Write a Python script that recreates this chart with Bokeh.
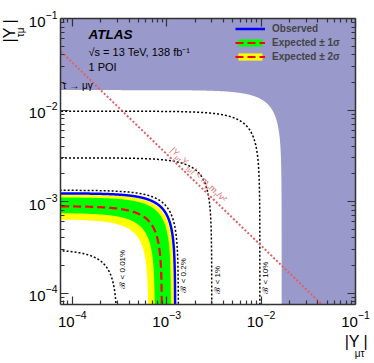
import numpy as np
from bokeh.plotting import figure
from bokeh.models import (Label, Legend, LegendItem, LogAxis, FixedTicker,
                          CustomJSTickFormatter, Range1d, Title)
from bokeh.embed import file_html
from bokeh.resources import INLINE

# ---------------- data ----------------
x_lim = (7.5e-5, 0.1)
y_lim = (7.5e-5, 0.1)
major_ticks = [1e-4, 1e-3, 1e-2, 1e-1]
minor_mantissas = [2, 3, 4, 5, 6, 7, 8, 9]
minor_decades = [-5, -4, -3, -2]

# limits are quarter circles |Y_mt|^2 + |Y_tm|^2 = r^2 ; radii
observed_r = 0.00123
expected_r = 0.00089
exp_1s_r = [0.00075, 0.00111]
exp_2s_r = [0.00064, 0.00119]
taumugamma_r = 0.0165            # indirect tau -> mu gamma exclusion
br_labels = ["ℬ < 0.01%", "ℬ < 0.2%", "ℬ < 1%", "ℬ < 10%"]
br_r = [0.0003, 0.00133, 0.003, 0.0097]
br_label_y = [1.82e-4, 1.56e-4, 1.40e-4, 1.47e-4]
natural_c = 3.3e-6               # |Y_mt Y_tm| = m_mu m_tau / v^2

FONT = "Liberation Sans"

theta = np.linspace(1e-5, np.pi / 2 - 1e-5, 4000)


def arc(r):
    return r * np.cos(theta), r * np.sin(theta)


p = figure(width=374, height=363,
           x_axis_type="log", y_axis_type="log",
           x_range=Range1d(*x_lim), y_range=Range1d(*y_lim),
           output_backend="svg", toolbar_location=None,
           min_border_left=60, min_border_right=19,
           min_border_top=18, min_border_bottom=59)
p.xgrid.visible = False
p.ygrid.visible = False
p.outline_line_color = None
p.background_fill_color = "white"

# excluded region by tau -> mu gamma
ex, ey = arc(taumugamma_r)
far = x_lim[1] * 10
near = ex[-1]
p.patch(list(ex) + [near, far, far], list(ey) + [far, far, ey[0]],
        fill_color="#9999CC", line_color=None)

# bands
x2o, y2o = arc(exp_2s_r[1])
x2i, y2i = arc(exp_2s_r[0])
yellow = p.patch(list(x2o) + list(x2i[::-1]), list(y2o) + list(y2i[::-1]),
                 fill_color="#FFFF00", line_color=None)
x1o, y1o = arc(exp_1s_r[1])
x1i, y1i = arc(exp_1s_r[0])
green = p.patch(list(x1o) + list(x1i[::-1]), list(y1o) + list(y1i[::-1]),
                fill_color="#00FF00", line_color=None)

xe, ye = arc(expected_r)
exp_line = p.line(xe, ye, line_color="#FF0000", line_width=2.2, line_dash="8 4")
xo, yo = arc(observed_r)
obs_line = p.line(xo, yo, line_color="#0000FF", line_width=2.5)

# branching ratio contours
for r, lab, ly in zip(br_r, br_labels, br_label_y):
    bx, by = arc(r)
    p.line(bx, by, line_color="black", line_width=1.5, line_dash="2 2")
    p.add_layout(Label(x=r, y=ly, x_offset=5.5, text=lab, angle=np.pi / 2,
                       text_align="center", text_baseline="middle",
                       text_font=FONT, text_font_size="8px", text_color="black"))

# naturalness line
nx = np.array([x_lim[0] / 10, x_lim[1] * 10])
p.line(nx, natural_c / nx, line_color="#E06060", line_width=2, line_dash="2 2")

# label along the naturalness line
ang = -np.arctan(91.6 / 94.4)
dx, dy = np.cos(ang), np.sin(ang)
nxv, nyv = -np.sin(ang), np.cos(ang)
widths = {"|": .26, "Y": .667, " ": .278, "<": .584, "m": .833, "/": .278,
          "v": .5, "²": .333, "μ": .576, "τ": .45}
pieces = [("|Y", False), ("μτ", True), (" Y", False), ("τμ", True),
          ("| < m", False), ("μ", True), ("m", False), ("τ", True), ("/v²", False)]
x0 = 1.0e-3
s = 0.0
for txt, sub in pieces:
    fs = 6.5 if sub else 9.0
    n = 5.0 if sub else 7.5
    p.add_layout(Label(x=x0, y=natural_c / x0,
                       x_offset=s * dx + n * nxv, y_offset=s * dy + n * nyv,
                       text=txt, angle=ang, text_align="left",
                       text_baseline="alphabetic", text_font=FONT,
                       text_font_size=f"{fs}px", text_color="#E07070"))
    s += sum(widths.get(c, .55) for c in txt) * fs

# axes styling
minor = [m * 10.0 ** e for e in minor_decades for m in minor_mantissas]


def style(ax):
    ax.ticker = FixedTicker(ticks=major_ticks, minor_ticks=minor)
    ax.major_tick_in = 8
    ax.major_tick_out = 0
    ax.minor_tick_in = 4
    ax.minor_tick_out = 0
    ax.axis_line_color = "#333333"
    ax.axis_line_width = 1.5
    ax.major_tick_line_color = "#333333"
    ax.minor_tick_line_color = "#333333"
    ax.major_tick_line_width = 1.2
    ax.minor_tick_line_width = 1.2
    ax.major_label_text_font = FONT
    ax.major_label_text_font_size = "15px"
    ax.major_label_text_color = "black"


style(p.xaxis[0])
style(p.yaxis[0])
p.xaxis[0].major_label_standoff = 6
p.yaxis[0].major_label_standoff = 3
for loc in ("above", "right"):
    ax = LogAxis(formatter=CustomJSTickFormatter(code="return ''"))
    style(ax)
    ax.major_label_standoff = 0
    ax.major_label_text_font_size = "1px"
    p.add_layout(ax, loc)

# axis titles (side-panel titles so they are not clipped by the frame)


def side_title(text, side, size, align, offset, valign, standoff):
    p.add_layout(Title(text=text, align=align, offset=offset,
                       vertical_align=valign, standoff=standoff,
                       text_font=FONT, text_font_size=f"{size}px",
                       text_font_style="normal", text_color="black"), side)


side_title("|Y  |", "below", 16, "right", -17, "bottom", 3)
side_title("μτ", "below", 10, "right", -9, "bottom", -12)
side_title("τμ", "left", 10, "right", 9, "top", -4)
side_title("|Y  |", "left", 16, "right", -4, "top", -6)

# legend
legend = Legend(items=[
    LegendItem(label="Observed", renderers=[obs_line]),
    LegendItem(label="Expected ± 1σ", renderers=[green, exp_line]),
    LegendItem(label="Expected ± 2σ", renderers=[yellow, exp_line]),
], location=(175, 242), background_fill_alpha=0, border_line_color=None,
    padding=0, margin=0, spacing=3, glyph_width=30, glyph_height=9,
    label_height=9, label_standoff=7, label_text_font=FONT,
    label_text_font_size="10px", label_text_font_style="bold")
p.add_layout(legend)


def put(px, py, text, size, style="normal", angle=0.0, align="left",
        baseline="middle"):
    p.add_layout(Label(x=px - 60, y=304 - py, x_units="screen", y_units="screen",
                       text=text, text_font=FONT, text_font_size=f"{size}px",
                       text_font_style=style, angle=angle, text_align=align,
                       text_baseline=baseline, text_color="black"))


put(88, 34, "ATLAS", 13.5, "bold italic")
put(88, 51, "√s = 13 TeV, 138 fb⁻¹", 11)
put(88, 66.5, "1 POI", 11)
put(62, 84.5, "τ → μγ", 10)

open("out.html", "w").write(file_html(p, INLINE))
